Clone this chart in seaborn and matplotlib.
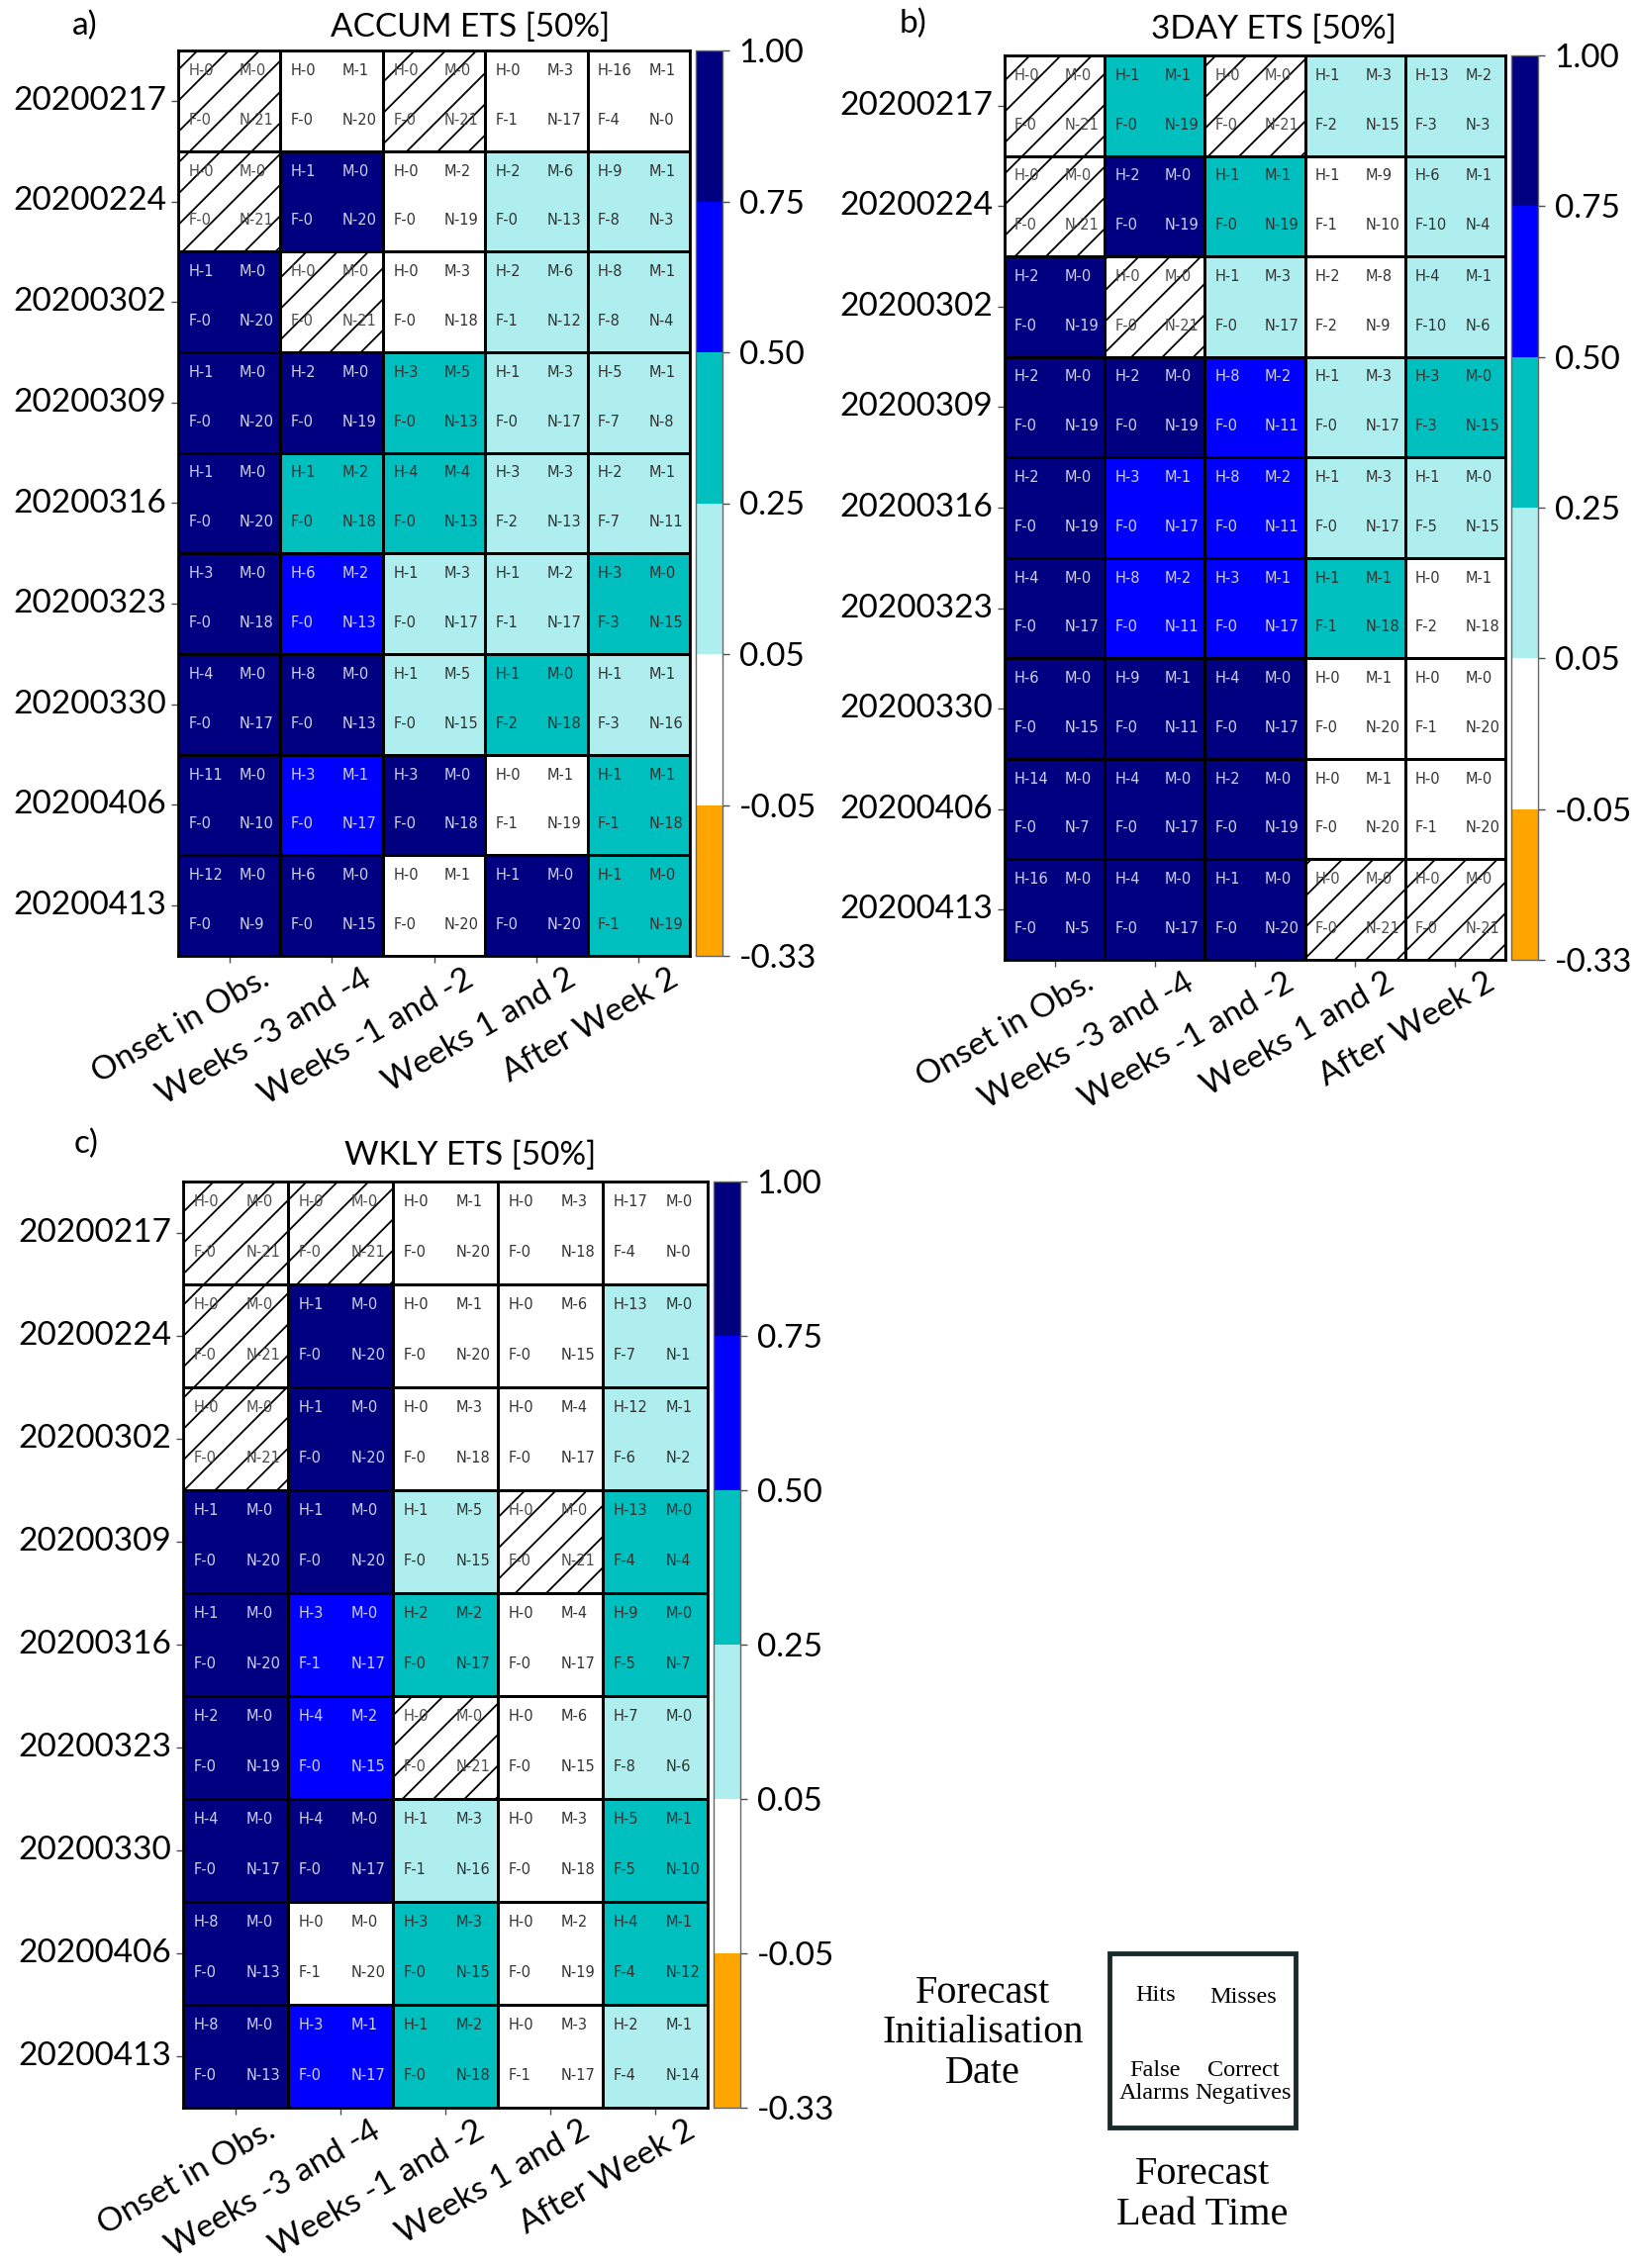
import numpy as np
import pandas as pd
import matplotlib
matplotlib.use("Agg")
import matplotlib.pyplot as plt
import seaborn as sns
from matplotlib.colors import ListedColormap, BoundaryNorm
from matplotlib.patches import Rectangle
from matplotlib.transforms import ScaledTranslation

# Dates d'initialisation et échéances
dates = ["20200217", "20200224", "20200302", "20200309", "20200316",
         "20200323", "20200330", "20200406", "20200413"]
lead_times = ["Onset in Obs.", "Weeks -3 and -4", "Weeks -1 and -2",
              "Weeks 1 and 2", "After Week 2"]

# Classes de l'ETS
ets_bounds = [-0.33, -0.05, 0.05, 0.25, 0.5, 0.75, 1.0]
ets_colors = ["orange", "white", "paleturquoise", "c", "blue", "navy"]

# a) ACCUM : hits, misses, false alarms, correct negatives
accum_hits = [[0, 0, 0, 0, 16], [0, 1, 0, 2, 9], [1, 0, 0, 2, 8], [1, 2, 3, 1, 5], [1, 1, 4, 3, 2],
              [3, 6, 1, 1, 3], [4, 8, 1, 1, 1], [11, 3, 3, 0, 1], [12, 6, 0, 1, 1]]
accum_misses = [[0, 1, 0, 3, 1], [0, 0, 2, 6, 1], [0, 0, 3, 6, 1], [0, 0, 5, 3, 1], [0, 2, 4, 3, 1],
                [0, 2, 3, 2, 0], [0, 0, 5, 0, 1], [0, 1, 0, 1, 1], [0, 0, 1, 0, 0]]
accum_false = [[0, 0, 0, 1, 4], [0, 0, 0, 0, 8], [0, 0, 0, 1, 8], [0, 0, 0, 0, 7], [0, 0, 0, 2, 7],
               [0, 0, 0, 1, 3], [0, 0, 0, 2, 3], [0, 0, 0, 1, 1], [0, 0, 0, 0, 1]]
accum_negs = [[21, 20, 21, 17, 0], [21, 20, 19, 13, 3], [20, 21, 18, 12, 4], [20, 19, 13, 17, 8],
              [20, 18, 13, 13, 11], [18, 13, 17, 17, 15], [17, 13, 15, 18, 16], [10, 17, 18, 19, 18],
              [9, 15, 20, 20, 19]]

# b) 3DAY
day3_hits = [[0, 1, 0, 1, 13], [0, 2, 1, 1, 6], [2, 0, 1, 2, 4], [2, 2, 8, 1, 3], [2, 3, 8, 1, 1],
             [4, 8, 3, 1, 0], [6, 9, 4, 0, 0], [14, 4, 2, 0, 0], [16, 4, 1, 0, 0]]
day3_misses = [[0, 1, 0, 3, 2], [0, 0, 1, 9, 1], [0, 0, 3, 8, 1], [0, 0, 2, 3, 0], [0, 1, 2, 3, 0],
               [0, 2, 1, 1, 1], [0, 1, 0, 1, 0], [0, 0, 0, 1, 0], [0, 0, 0, 0, 0]]
day3_false = [[0, 0, 0, 2, 3], [0, 0, 0, 1, 10], [0, 0, 0, 2, 10], [0, 0, 0, 0, 3], [0, 0, 0, 0, 5],
              [0, 0, 0, 1, 2], [0, 0, 0, 0, 1], [0, 0, 0, 0, 1], [0, 0, 0, 0, 0]]
day3_negs = [[21, 19, 21, 15, 3], [21, 19, 19, 10, 4], [19, 21, 17, 9, 6], [19, 19, 11, 17, 15],
             [19, 17, 11, 17, 15], [17, 11, 17, 18, 18], [15, 11, 17, 20, 20], [7, 17, 19, 20, 20],
             [5, 17, 20, 21, 21]]

# c) WKLY
wkly_hits = [[0, 0, 0, 0, 17], [0, 1, 0, 0, 13], [0, 1, 0, 0, 12], [1, 1, 1, 0, 13], [1, 3, 2, 0, 9],
             [2, 4, 0, 0, 7], [4, 4, 1, 0, 5], [8, 0, 3, 0, 4], [8, 3, 1, 0, 2]]
wkly_misses = [[0, 0, 1, 3, 0], [0, 0, 1, 6, 0], [0, 0, 3, 4, 1], [0, 0, 5, 0, 0], [0, 0, 2, 4, 0],
               [0, 2, 0, 6, 0], [0, 0, 3, 3, 1], [0, 0, 3, 2, 1], [0, 1, 2, 3, 1]]
wkly_false = [[0, 0, 0, 0, 4], [0, 0, 0, 0, 7], [0, 0, 0, 0, 6], [0, 0, 0, 0, 4], [0, 1, 0, 0, 5],
              [0, 0, 0, 0, 8], [0, 0, 1, 0, 5], [0, 1, 0, 0, 4], [0, 0, 0, 1, 4]]
wkly_negs = [[21, 21, 20, 18, 0], [21, 20, 20, 15, 1], [21, 20, 18, 17, 2], [20, 20, 15, 21, 4],
             [20, 17, 17, 17, 7], [19, 15, 21, 15, 6], [17, 17, 16, 18, 10], [13, 20, 15, 19, 12],
             [13, 17, 18, 17, 14]]


def ets(h, m, f, n):
    # Equitable Threat Score, NaN si aucun événement
    hr = (h + m) * (h + f) / (h + m + f + n)
    den = h + m + f - hr
    with np.errstate(divide="ignore", invalid="ignore"):
        return np.where(den > 0, (h - hr) / den, np.nan)


# le pas des hachures suit le dpi, les tailles sont remises à l'échelle
DPI = 94
S = 100 / DPI
W, H = 1654, 2292

plt.rcParams['font.family'] = ['Lato', 'DejaVu Sans']
plt.rcParams['hatch.linewidth'] = 1.3 * S

fig = plt.figure(figsize=(W / DPI, H / DPI), dpi=DPI)


def px_axes(x0, x1, y0, y1):
    return fig.add_axes([x0 / W, 1 - y1 / H, (x1 - x0) / W, (y1 - y0) / H])


cmap = ListedColormap(ets_colors)
cmap.set_bad((0, 0, 0, 0))
cmap.set_over("navy")
norm = BoundaryNorm(ets_bounds, cmap.N)


def draw_panel(hits, misses, false, negs, heat_px, cbar_px):
    ax = px_axes(*heat_px)
    cax = px_axes(*cbar_px)
    h, m, f, n = (np.array(v, dtype=float) for v in (hits, misses, false, negs))
    score = pd.DataFrame(ets(h, m, f, n), index=dates, columns=lead_times)

    # fond hachuré pour les cases sans événement
    ax.patch.set_facecolor("white")
    ax.patch.set_edgecolor("black")
    ax.patch.set_hatch("/")

    sns.heatmap(score, ax=ax, cbar_ax=cax, cmap=cmap, norm=norm,
                linewidths=2 * S, linecolor="black",
                cbar_kws={"ticks": ets_bounds, "format": "%.2f"})

    for sp in ax.spines.values():
        sp.set_visible(True)
        sp.set_linewidth(2 * S)
        sp.set_color("black")

    # tick_params d'abord : il remet à zéro les transformations des étiquettes
    ax.tick_params(length=5 * S, width=1 * S, color="0.3")
    ax.tick_params(axis="x", pad=2 * S)
    ax.set_yticklabels(dates, rotation=0, va="center", fontsize=24 * S)
    ax.set_xticklabels(lead_times, rotation=30, ha="right", rotation_mode="anchor", fontsize=24 * S)
    offset = ScaledTranslation(30 / DPI, 2 / DPI, fig.dpi_scale_trans)
    for lab in ax.get_xticklabels():
        lab.set_transform(lab.get_transform() + offset)
    ax.set_xlabel("")
    ax.set_ylabel("")

    cb = ax.collections[0].colorbar
    cb.outline.set_linewidth(1 * S)
    cb.outline.set_edgecolor("0.4")
    cax.tick_params(labelsize=24 * S, length=5 * S, width=1 * S, pad=7 * S, color="0.3")

    # comptes dans chaque case
    for i in range(len(dates)):
        for j in range(len(lead_times)):
            val = score.iat[i, j]
            if np.isnan(val):
                col = "0.3"
            elif val >= 0.5:
                col = "#cfcff0"
            else:
                col = "0.2"
            kw = dict(color=col, fontsize=10.5 * S, family="DejaVu Sans", va="center", ha="left")
            ax.text(j + 0.1, i + 0.2, f"H-{h[i, j]:.0f}", **kw)
            ax.text(j + 0.6, i + 0.2, f"M-{m[i, j]:.0f}", **kw)
            ax.text(j + 0.1, i + 0.69, f"F-{f[i, j]:.0f}", **kw)
            ax.text(j + 0.6, i + 0.69, f"N-{n[i, j]:.0f}", **kw)
    return ax


draw_panel(accum_hits, accum_misses, accum_false, accum_negs, (180, 697, 51, 966), (703, 730, 51, 966))
draw_panel(day3_hits, day3_misses, day3_false, day3_negs, (1015, 1521, 56, 970), (1527, 1554, 56, 970))
draw_panel(wkly_hits, wkly_misses, wkly_false, wkly_negs, (185, 715, 1194, 2130), (721, 748, 1194, 2130))

# titres et lettres des panneaux
fig.text(475 / W, 1 - 28 / H, "ACCUM ETS [50%]", ha="center", va="center", fontsize=24 * S)
fig.text(1287 / W, 1 - 30 / H, "3DAY ETS [50%]", ha="center", va="center", fontsize=24 * S)
fig.text(475 / W, 1 - 1168 / H, "WKLY ETS [50%]", ha="center", va="center", fontsize=24 * S)
fig.text(86 / W, 1 - 26 / H, "a)", ha="center", va="center", fontsize=24 * S)
fig.text(923 / W, 1 - 24 / H, "b)", ha="center", va="center", fontsize=24 * S)
fig.text(87 / W, 1 - 1156 / H, "c)", ha="center", va="center", fontsize=24 * S)

# légende explicative
serif = "Liberation Serif"
fig.text(993 / W, 1 - 2055 / H, "Forecast\nInitialisation\nDate", ha="center", va="center",
         fontsize=29 * S, family=serif, linespacing=1.12)
fig.text(1215 / W, 1 - 2218 / H, "Forecast\nLead Time", ha="center", va="center",
         fontsize=29 * S, family=serif, linespacing=1.12)
fig.add_artist(Rectangle((1121 / W, 1 - 2150 / H), 188 / W, 176 / H, transform=fig.transFigure,
                         fill=False, linewidth=3.5 * S, edgecolor="#1a2a2a"))
fig.text(1168 / W, 1 - 2017 / H, "Hits", ha="center", va="center", fontsize=17.5 * S, family=serif)
fig.text(1256 / W, 1 - 2018 / H, "Misses", ha="center", va="center", fontsize=17.5 * S, family=serif)
fig.text(1167 / W, 1 - 2104 / H, "False\nAlarms", ha="center", va="center", fontsize=17.5 * S,
         family=serif, linespacing=1.1)
fig.text(1256 / W, 1 - 2104 / H, "Correct\nNegatives", ha="center", va="center", fontsize=17.5 * S,
         family=serif, linespacing=1.1)

fig.savefig("out.png", dpi=DPI, facecolor="white")
